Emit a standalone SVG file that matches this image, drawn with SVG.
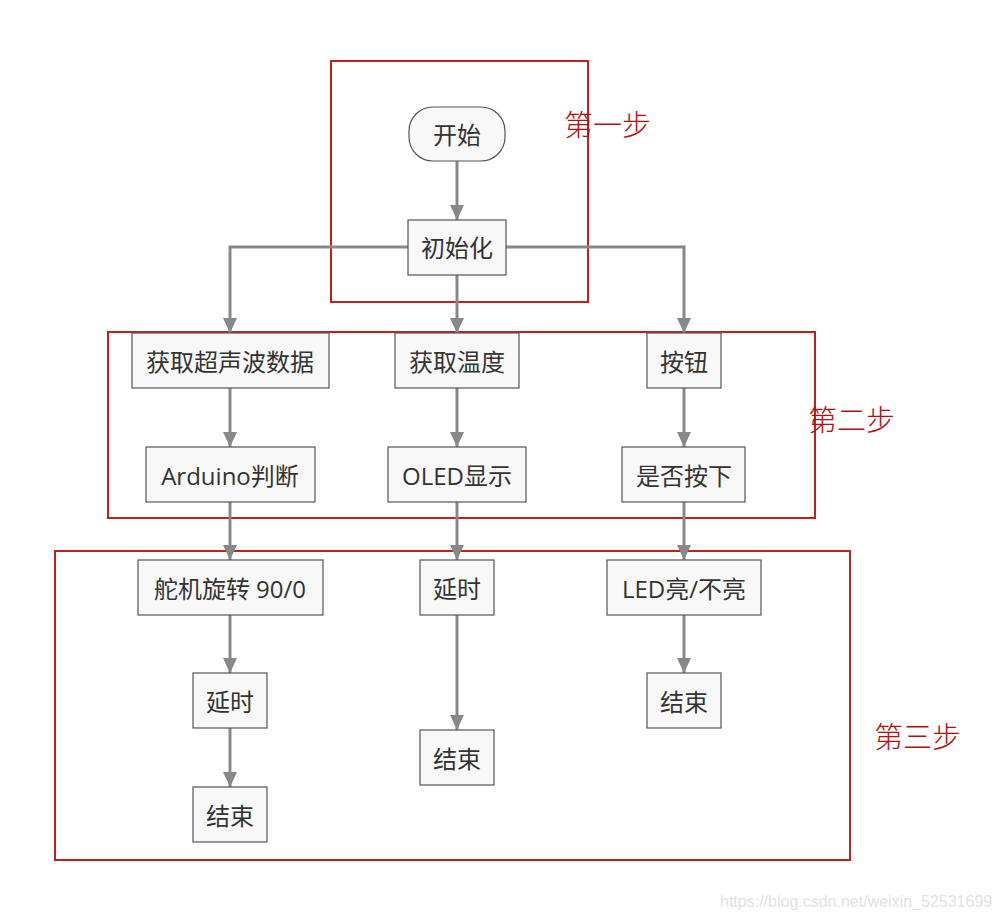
<svg xmlns="http://www.w3.org/2000/svg" width="1000" height="920" viewBox="0 0 1000 920">
<style>
.n{fill:#f8f8f8;stroke:#555;stroke-width:1.2}
.t{font-family:"Open Sans","Noto Sans CJK SC",sans-serif;font-size:24px;fill:#333;text-anchor:middle;dominant-baseline:central}
.c{fill:none;stroke:#888;stroke-width:3}
.r{fill:none;stroke:#c0201e;stroke-width:2}
.s{font-family:"Noto Sans CJK SC",sans-serif;font-size:29px;font-weight:300;fill:#b01010;dominant-baseline:central}
.w{font-family:"Liberation Sans",sans-serif;font-size:16px;fill:#e2e2e2}
</style>
<defs>
<marker id="a" markerUnits="userSpaceOnUse" markerWidth="16" markerHeight="14" refX="15" refY="7" orient="auto">
<path d="M0,0 L15,7 L0,14 Z" fill="#888"/>
</marker>
</defs>
<rect width="1000" height="920" fill="#fff"/>
<g id="frames">
<rect class="r" x="331" y="61" width="257" height="241"/>
<rect class="r" x="108" y="332" width="707" height="186"/>
<rect class="r" x="55" y="551" width="795" height="309"/>
<text class="s" x="564" y="123">第一步</text>
<text class="s" x="808" y="418">第二步</text>
<text class="s" x="874" y="735">第三步</text>
</g>
<g id="connectors">
<path class="c" d="M457,161 V220" marker-end="url(#a)"/>
<path class="c" d="M408,247 H230 V333" marker-end="url(#a)"/>
<path class="c" d="M506,247 H684 V333" marker-end="url(#a)"/>
<path class="c" d="M457,275 V333" marker-end="url(#a)"/>
<path class="c" d="M230,388 V447" marker-end="url(#a)"/>
<path class="c" d="M457,388 V447" marker-end="url(#a)"/>
<path class="c" d="M684,388 V447" marker-end="url(#a)"/>
<path class="c" d="M230,502 V560" marker-end="url(#a)"/>
<path class="c" d="M457,502 V560" marker-end="url(#a)"/>
<path class="c" d="M684,502 V560" marker-end="url(#a)"/>
<path class="c" d="M230,615 V673" marker-end="url(#a)"/>
<path class="c" d="M230,728 V787" marker-end="url(#a)"/>
<path class="c" d="M457,615 V730" marker-end="url(#a)"/>
<path class="c" d="M684,615 V673" marker-end="url(#a)"/>
</g>
<g id="start"><rect class="n" x="409" y="107" width="96" height="54" rx="24"/><text class="t" x="457" y="134">开始</text></g>
<g id="init"><rect class="n" x="408" y="220" width="98" height="55"/><text class="t" x="457" y="247">初始化</text></g>
<g id="ultra"><rect class="n" x="132" y="333" width="197" height="55"/><text class="t" x="230" y="361">获取超声波数据</text></g>
<g id="temp"><rect class="n" x="395" y="333" width="124" height="55"/><text class="t" x="457" y="361">获取温度</text></g>
<g id="button"><rect class="n" x="647" y="333" width="74" height="55"/><text class="t" x="684" y="361">按钮</text></g>
<g id="arduino"><rect class="n" x="146" y="447" width="169" height="55"/><text class="t" x="230" y="475">Arduino判断</text></g>
<g id="oled"><rect class="n" x="388" y="447" width="138" height="55"/><text class="t" x="457" y="475">OLED显示</text></g>
<g id="pressed"><rect class="n" x="622" y="447" width="123" height="55"/><text class="t" x="684" y="475">是否按下</text></g>
<g id="servo"><rect class="n" x="138" y="560" width="185" height="55"/><text class="t" x="230" y="588">舵机旋转 90/0</text></g>
<g id="delay2"><rect class="n" x="420" y="560" width="74" height="55"/><text class="t" x="457" y="588">延时</text></g>
<g id="led"><rect class="n" x="607" y="560" width="154" height="55"/><text class="t" x="684" y="588">LED亮/不亮</text></g>
<g id="delay1"><rect class="n" x="193" y="673" width="74" height="55"/><text class="t" x="230" y="701">延时</text></g>
<g id="end1"><rect class="n" x="193" y="787" width="74" height="55"/><text class="t" x="230" y="815">结束</text></g>
<g id="end2"><rect class="n" x="420" y="730" width="74" height="55"/><text class="t" x="457" y="758">结束</text></g>
<g id="end3"><rect class="n" x="647" y="673" width="74" height="55"/><text class="t" x="684" y="701">结束</text></g>
<text class="w" x="720" y="907">https://blog.csdn.net/weixin_52531699</text>
</svg>
